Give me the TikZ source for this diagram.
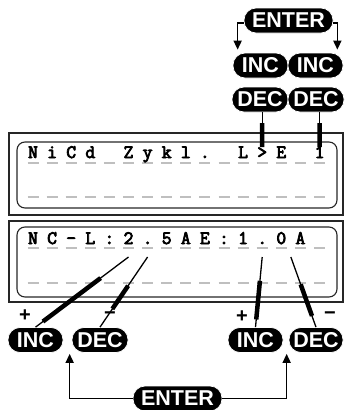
\documentclass[tikz,border=0pt]{standalone}
\usepackage{fontspec}
\newfontfamily\pillfont{Liberation Sans}
\newfontfamily\lcdfont{Latin Modern Mono}[FakeBold=4]
\usetikzlibrary{arrows.meta,calc,positioning}

\begin{document}
\begin{tikzpicture}[x=1pt,y=-1pt,
  pill/.style={fill=black,draw=white,line width=0.7pt,rounded corners=12pt,minimum height=25pt,inner sep=0pt,text=white,font=\pillfont\bfseries\fontsize{21.5}{21.5}\selectfont},
  lcdchar/.style={anchor=base,inner sep=0pt,font=\lcdfont\fontsize{19}{19}\selectfont},
  cell/.style={black!25,line width=1.6pt},
  frame/.style={black!85,line width=1.1pt},
  lead/.style={line width=1.3pt},
  leadbar/.style={line width=4.5pt},
  entarrow/.style={line width=1.6pt,-{Triangle[length=9pt,width=8pt]}},
  sign/.style={font=\pillfont\bfseries\fontsize{20}{20}\selectfont,inner sep=0pt}]
  \useasboundingbox (0,0) rectangle (345,410);

  % Display frames
  \draw[frame] (9,133) rectangle (343,215);
  \draw[frame,rounded corners=8pt] (17,142) rectangle (337,208);
  \draw[frame] (9,221) rectangle (343,302);
  \draw[frame,rounded corners=8pt] (17,227) rectangle (337,297);

  % Character cells
  \foreach \row in {163,197,248,283}
    \foreach \i in {0,...,15}
      \draw[cell] ({33+19.1*\i-5.5},\row) -- ++(11,0);

  % Display texts
  \foreach \c [count=\i from 0] in {N,i,C,d,{},Z,y,k,l,.,{},L,>,E,{},1}
    \node[lcdchar] (up\i) at ({33+19.1*\i},158) {\c};
  \foreach \c [count=\i from 0] in {N,C,-,L,:,2,.,5,A,E,:,1,.,0,A}
    \node[lcdchar] (low\i) at ({33+19.1*\i},244) {\c};

  % Upper keys
  \node[pill,minimum width=89pt] (enterT) at (288.5,20.5) {ENTER};
  \node[pill,minimum width=55pt] (incUL) at (260.5,65.5) {INC};
  \node[pill,minimum width=55pt] (incUR) at (315.5,65.5) {INC};
  \node[pill,minimum width=56pt] (decUL) at (260,99.5) {DEC};
  \node[pill,minimum width=56pt] (decUR) at (316,99.5) {DEC};

  \draw[entarrow] ([yshift=-2.5pt]enterT.west) -| ([xshift=5pt,yshift=3pt]incUL.north west);
  \draw[entarrow] ([yshift=-2.5pt]enterT.east) -| ([xshift=-6pt,yshift=3pt]incUR.north east);

  % Upper leaders
  \coordinate (topA) at (decUL.south -| up12.base);
  \coordinate (tipA) at ([yshift=11pt]up12.base);
  \coordinate (topB) at (decUR.south -| up15.base);
  \coordinate (tipB) at ([yshift=11pt]up15.base);
  \foreach \a/\b in {topA/tipA,topB/tipB} {
    \draw[lead] (\a) -- (\b);
    \draw[leadbar] ($(\a)!0.31!(\b)$) -- (\b);
  }

  % Lower keys
  \node[pill,minimum width=55pt] (incL) at (35.5,340) {INC};
  \node[pill,minimum width=56pt] (decL) at (100,340) {DEC};
  \node[pill,minimum width=55pt] (incR) at (255.5,340) {INC};
  \node[pill,minimum width=54pt] (decR) at (316,340) {DEC};
  \node[pill,minimum width=89pt] (enterB) at (177.5,398.5) {ENTER};

  \draw[entarrow] (enterB.west) -| ([xshift=-2pt,yshift=-1pt]decL.south west);
  \draw[entarrow] (enterB.east) -| ([xshift=-2pt,yshift=-1pt]decR.south west);

  % Signs
  \node[sign] (plusL) at (25,316) {+};
  \node[sign] (minusL) at (110,316) {−};
  \node[sign] (plusR) at (242,317) {+};
  \node[sign] (minusR) at (330,316) {−};

  % Lower leaders
  \coordinate (tipL) at ([yshift=-13pt]low5.base);
  \coordinate (tipM) at ([yshift=-13pt]low6.base);
  \coordinate (tipN) at ([yshift=-13pt]low12.base);
  \coordinate (tipP) at ([yshift=-13pt]$(low13.base)!0.5!(low14.base)$);
  \foreach \a/\b/\s/\e in {incL.north/tipL/0.08/0.70,decL.north/tipM/0.26/0.59,
                           incR.north/tipN/0.11/0.66,decR.north/tipP/0.16/0.61} {
    \draw[lead] (\a) -- (\b);
    \draw[leadbar] ($(\a)!\s!(\b)$) -- ($(\a)!\e!(\b)$);
  }
\end{tikzpicture}
\end{document}
